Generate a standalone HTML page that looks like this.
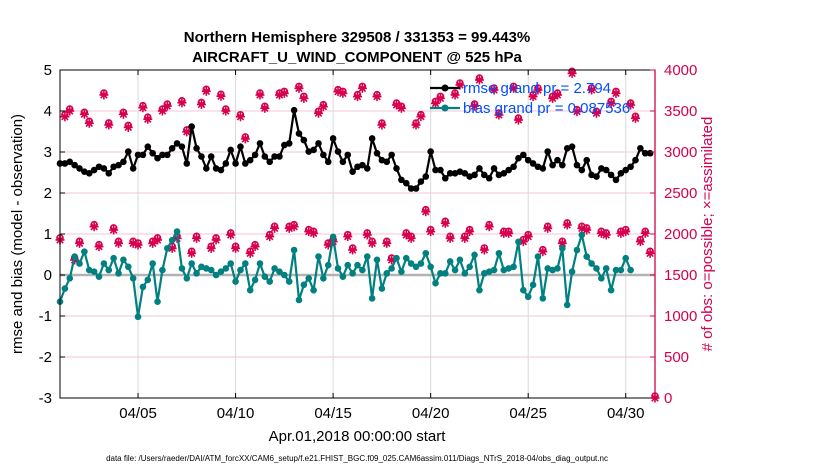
<!DOCTYPE html>
<html><head><meta charset="utf-8"><style>
body{margin:0;background:#fff;}
svg{display:block;font-family:"Liberation Sans",sans-serif;}
</style></head><body>
<svg id="chart" width="830" height="470" viewBox="0 0 830 470">
<rect x="0" y="0" width="830" height="470" fill="#fff"/>
<text x="357" y="42" text-anchor="middle" font-size="15" font-weight="bold">Northern Hemisphere 329508 / 331353 = 99.443%</text>
<text x="357" y="62" text-anchor="middle" font-size="15" font-weight="bold">AIRCRAFT_U_WIND_COMPONENT @ 525 hPa</text>
<g id="grid"></g>
<g id="obs"></g>
<g id="series"></g>
<g id="axes"></g>
<text transform="translate(22,234) rotate(-90)" text-anchor="middle" font-size="15">rmse and bias (model - observation)</text>
<text transform="translate(712,234) rotate(-90)" text-anchor="middle" font-size="15" fill="#d6004f"># of obs: o=possible; ×=assimilated</text>
<text x="357" y="441" text-anchor="middle" font-size="15">Apr.01,2018 00:00:00 start</text>
<text x="357" y="461" text-anchor="middle" font-size="8">data file: /Users/raeder/DAI/ATM_forcXX/CAM6_setup/f.e21.FHIST_BGC.f09_025.CAM6assim.011/Diags_NTrS_2018-04/obs_diag_output.nc</text>
<g id="legend"></g>
</svg>
<script>
const rmse=[2.72,2.72,2.76,2.68,2.60,2.52,2.48,2.56,2.64,2.60,2.48,2.64,2.68,2.76,3.01,2.60,2.93,2.93,3.13,2.97,2.85,2.93,2.93,3.09,3.21,3.13,2.72,3.62,3.09,2.89,2.60,2.89,2.60,2.56,2.72,3.05,2.72,3.13,2.72,2.80,2.93,3.21,
2.89,2.76,2.89,2.89,3.17,3.21,4.02,3.45,3.29,3.01,3.05,3.21,2.93,2.76,3.33,3.01,2.76,2.93,2.52,2.64,2.68,2.60,3.33,2.97,2.80,2.76,2.93,2.60,2.32,2.24,2.11,2.11,2.28,2.40,3.01,2.56,2.56,2.36,2.48,2.48,
2.52,2.48,2.40,2.44,2.60,2.44,2.36,2.60,2.44,2.48,2.56,2.64,2.85,2.93,2.80,2.72,2.64,2.60,3.01,2.68,2.80,2.68,3.09,3.13,2.68,2.56,2.80,2.44,2.40,2.60,2.56,2.44,2.32,2.48,2.56,2.64,2.80,3.09,2.97,2.97];
const bias=[-0.65,-0.33,-0.08,0.45,0.28,0.57,0.12,0.08,-0.04,0.28,0.12,0.41,0.04,0.37,0.20,-0.08,-1.02,-0.29,-0.12,0.28,-0.65,0.12,0.65,0.85,1.06,0.16,-0.08,0.28,0.04,0.20,0.16,0.12,0,0.08,0.16,0.28,-0.16,0.12,0.28,-0.37,-0.12,0.28,
-0.04,-0.16,0.16,0.08,0,-0.16,0.61,-0.61,-0.24,-0.08,-0.37,0.45,-0.08,0.24,0.93,0.16,-0.04,0.24,0.04,0.24,0.12,0.45,-0.57,0.37,-0.33,0.04,0.16,0.41,0.08,0.41,0.28,0.20,0.28,0.53,0.20,-0.20,0.04,0.04,0.33,0.12,
0.37,0.04,0.20,0.49,-0.37,0.04,0.08,0.12,0.53,0.12,0.16,0.20,0.81,-0.37,-0.53,-0.24,0.45,-0.57,0.16,0.12,0.16,0.65,-0.73,0.08,0.61,0.98,0.45,0.28,0.16,-0.08,0.16,-0.37,0.12,0.12,0.41,0.12];
const counts=[1927,3430,3500,1683,1886,3460,3350,2089,1846,3695,3330,2049,1886,3460,3300,1886,1866,3540,3400,1886,1927,3500,3560,1825,1947,3600,3245,1764,1947,3580,3740,1825,1927,3680,3500,1988,1825,3430,3160,1764,1846,
3695,3533,1968,2069,3695,3715,2069,2089,3776,3654,2029,2008,3472,3553,1866,1907,3736,3715,1968,1805,3675,3776,1988,1886,3675,3329,1886,1683,3573,3533,1988,1947,3329,3431,2272,2029,3593,3654,2130,1947,3695,
3817,1947,2029,3560,3878,1805,2089,3756,3451,2008,2008,3776,3390,1907,1968,3675,3756,1785,2069,3654,3695,1886,2110,3959,3492,2069,2049,3756,3472,2008,1988,3593,3715,2008,2029,3573,3411,1907,2008,1764,0];
const xTickLabels=["04/05","04/10","04/15","04/20","04/25","04/30"];
const xTickDays=[4,9,14,19,24,29];
const yLeftTicks=[-3,-2,-1,0,1,2,3,4,5];
const yRightTicks=[0,500,1000,1500,2000,2500,3000,3500,4000];
const legendLabels=["rmse grand pr = 2.794","bias grand pr = 0.087536"];

const X0=60,X1=655,Y0=70,Y1=398;
const DAYS=30.5;
function xs(d){return X0+(X1-X0)*d/DAYS;}
function yl(v){return Y1-(v+3)/8*(Y1-Y0);}
function yr(c){return Y1-c/4000*(Y1-Y0);}
function tOf(i){return i*0.25;}
const NS="http://www.w3.org/2000/svg";
function mk(tag,attrs,parent){const e=document.createElementNS(NS,tag);for(const k in attrs)e.setAttribute(k,attrs[k]);parent.appendChild(e);return e;}
const grid=document.getElementById('grid'),axes=document.getElementById('axes'),obs=document.getElementById('obs'),series=document.getElementById('series'),legend=document.getElementById('legend');

yLeftTicks.forEach(v=>{const y=yl(v);
 const g=mk('line',{x1:X0,x2:X1,y1:y,y2:y,stroke:'#f3c6d6','stroke-width':1},grid);
 
 
 const t=mk('line',{x1:X0,x2:X0+5,y1:y,y2:y,stroke:'#000'},axes);
 
 
 const l=mk('text',{x:X0-8,y:y+5,'text-anchor':'end','font-size':15},axes);l.textContent=v;
 
 
});
xTickDays.forEach((d,i)=>{const x=xs(d);
 const g=mk('line',{x1:x,x2:x,y1:Y0,y2:Y1,stroke:'#d9d9d9'},grid);
 
 
 mk('line',{x1:x,x2:x,y1:Y1,y2:Y1-5,stroke:'#000'},axes);
 mk('line',{x1:x,x2:x,y1:Y0,y2:Y0+5,stroke:'#000'},axes);
 const l=mk('text',{x:x,y:Y1+20,'text-anchor':'middle','font-size':15},axes);l.textContent=xTickLabels[i];
 
 
});
const z=mk('line',{x1:X0,x2:X1,y1:yl(0),y2:yl(0),stroke:'#b3b3b3','stroke-width':2.5},grid);



// obs counts
counts.forEach((c,i)=>{const x=xs(tOf(i)),y=yr(c);
 const g=mk('g',{stroke:'#d6004f','stroke-width':1.6,fill:'none'},obs);
 
 
 mk('circle',{cx:x,cy:y-2,r:3},g);
 mk('line',{x1:x-4.5,x2:x+4.5,y1:y,y2:y},g);
 mk('line',{x1:x,x2:x,y1:y-4.5,y2:y+4.5},g);
 mk('line',{x1:x-3.2,x2:x+3.2,y1:y-3.2,y2:y+3.2},g);
 mk('line',{x1:x-3.2,x2:x+3.2,y1:y+3.2,y2:y-3.2},g);
});

function drawSeries(vals,color,name){
 const pts=vals.map((v,i)=>xs(tOf(i)).toFixed(1)+','+yl(v).toFixed(1)).join(' ');
 const pl=mk('polyline',{points:pts,fill:'none',stroke:color,'stroke-width':2.2},series);
 
 
 vals.forEach((v,i)=>{const c=mk('circle',{cx:xs(tOf(i)),cy:yl(v),r:3.3,fill:color},series);
  
  });
}
drawSeries(rmse,'#000','rmse');
drawSeries(bias,'#008080','bias');

// axes box
const box=mk('rect',{x:X0,y:Y0,width:X1-X0,height:Y1-Y0,fill:'none',stroke:'#000','stroke-width':1},axes);


const ra=mk('line',{x1:X1,x2:X1,y1:Y0,y2:Y1,stroke:'#d6004f','stroke-width':1.3},axes);


yRightTicks.forEach(c=>{const y=yr(c);
 mk('line',{x1:X1-5,x2:X1,y1:y,y2:y,stroke:'#d6004f'},axes);
 const l=mk('text',{x:X1+9,y:y+5,'font-size':15,fill:'#d6004f'},axes);l.textContent=c;
 
 
});

// legend
[['#000',88],['#008080',108]].forEach((s,i)=>{
 const g=mk('g',{},legend);
 
 
 mk('line',{x1:430,x2:460,y1:s[1],y2:s[1],stroke:s[0],'stroke-width':2.2},g);
 mk('circle',{cx:445,cy:s[1],r:3.5,fill:s[0]},g);
 const t=mk('text',{x:463,y:s[1]+5,'font-size':15,fill:'#0050ff'},g);t.textContent=legendLabels[i];
});
</script>
</body></html>
